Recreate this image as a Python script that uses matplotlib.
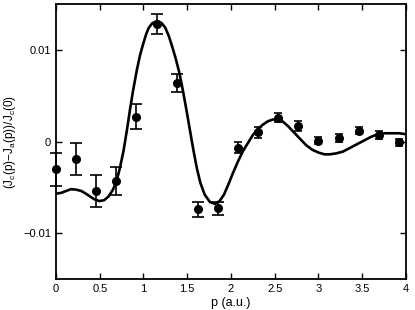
import matplotlib
matplotlib.use("Agg")
import matplotlib.pyplot as plt

plt.rcParams['font.family'] = ['Liberation Sans', 'DejaVu Sans']
plt.rcParams['mathtext.fontset'] = 'custom'
plt.rcParams['mathtext.rm'] = 'Liberation Sans'
plt.rcParams['mathtext.it'] = 'Liberation Sans'

# measured data points
p_data = [0.0, 0.23, 0.46, 0.69, 0.92, 1.15, 1.38, 1.62, 1.85, 2.08, 2.31, 2.54,
          2.77, 3.0, 3.23, 3.46, 3.69, 3.92]
v_data = [-0.0030, -0.0019, -0.0054, -0.0043, 0.0027, 0.0128, 0.0064, -0.0074,
          -0.0073, -0.0007, 0.0010, 0.0026, 0.0017, 0.0001, 0.0004, 0.0012,
          0.0007, -0.0001]
e_data = [0.0018, 0.0017, 0.0017, 0.0015, 0.00135, 0.0011, 0.00095, 0.0008,
          0.0007, 0.0006, 0.0006, 0.0005, 0.0005, 0.0004, 0.0004, 0.0004,
          0.0004, 0.0004]

# theory curve
p_curve = [0.0, 0.06, 0.114, 0.17, 0.229, 0.29, 0.343, 0.39, 0.438, 0.495,
           0.55, 0.60, 0.648, 0.69, 0.73, 0.77, 0.81, 0.846, 0.88, 0.922,
           0.96, 0.998, 1.03, 1.06, 1.10, 1.158, 1.21, 1.25, 1.29, 1.33, 1.37,
           1.41, 1.45, 1.49, 1.53, 1.57, 1.61, 1.65, 1.70, 1.76, 1.817, 1.87,
           1.92, 1.97, 2.02, 2.084, 2.14, 2.198, 2.25, 2.30, 2.36, 2.42, 2.48,
           2.53, 2.59, 2.65, 2.72, 2.79, 2.86, 2.93, 3.0, 3.07, 3.13, 3.2,
           3.28, 3.36, 3.44, 3.52, 3.6, 3.68, 3.76, 3.84, 3.92, 4.0]
v_curve = [-0.0057, -0.0056, -0.0054, -0.0052, -0.00525, -0.0054, -0.0057,
           -0.0060, -0.0063, -0.0065, -0.0064, -0.0060, -0.0053, -0.0044,
           -0.0029, -0.0011, 0.0012, 0.0035, 0.0055, 0.0077, 0.0094, 0.0107,
           0.0117, 0.0124, 0.0129, 0.01315, 0.0129, 0.0124, 0.0115, 0.0103,
           0.0090, 0.0075, 0.0056, 0.0035, 0.0013, -0.0009, -0.0029, -0.0045,
           -0.0058, -0.0066, -0.0068, -0.0065, -0.0058, -0.0047, -0.0035,
           -0.0021, -0.0010, -0.0001, 0.0007, 0.0013, 0.0018, 0.0022, 0.0024,
           0.0024, 0.0022, 0.0017, 0.0010, 0.0003, -0.0004, -0.0009, -0.0012,
           -0.0014, -0.0014, -0.0013, -0.0011, -0.0007, -0.0003, 0.0001,
           0.0005, 0.0008, 0.0009, 0.0009, 0.0009, 0.0008]

fig = plt.figure(figsize=(4.15, 3.10), dpi=100)
ax = fig.add_axes([0.135, 0.10, 0.843, 0.887])

ax.plot(p_curve, v_curve, color='black', lw=1.9, zorder=2,
        solid_joinstyle='round')

n_big = 9
ax.errorbar(p_data[:n_big], v_data[:n_big], yerr=e_data[:n_big], fmt='o',
            color='black', ms=5.5, capsize=4.5, elinewidth=1.2, capthick=1.2,
            clip_on=False, zorder=3)
ax.errorbar(p_data[n_big:], v_data[n_big:], yerr=e_data[n_big:], fmt='o',
            color='black', ms=5.5, capsize=3, elinewidth=1.2, capthick=1.2,
            clip_on=False, zorder=3)

ax.set_xlim(0, 4)
ax.set_ylim(-0.015, 0.015)
ax.set_xticks([0, 0.5, 1, 1.5, 2, 2.5, 3, 3.5, 4])
ax.set_xticklabels(['0', '0.5', '1', '1.5', '2', '2.5', '3', '3.5', '4'])
ax.set_yticks([-0.01, 0, 0.01])
ax.set_yticklabels(['\u22120.01', '0', '0.01'])
ax.tick_params(direction='in', top=True, right=True, labelsize=8, length=4,
               width=1)
for s in ax.spines.values():
    s.set_linewidth(1.3)

ax.set_xlabel('p (a.u.)', fontsize=9, labelpad=2)
ylab = (r'(J$_\mathregular{c}$(p)' + '\u2212' +
        r'J$_\mathregular{a}$(p))/J$_\mathregular{c}$(0)')
ax.set_ylabel(ylab, fontsize=8.5, labelpad=4)

fig.savefig('out.png', dpi=100)
